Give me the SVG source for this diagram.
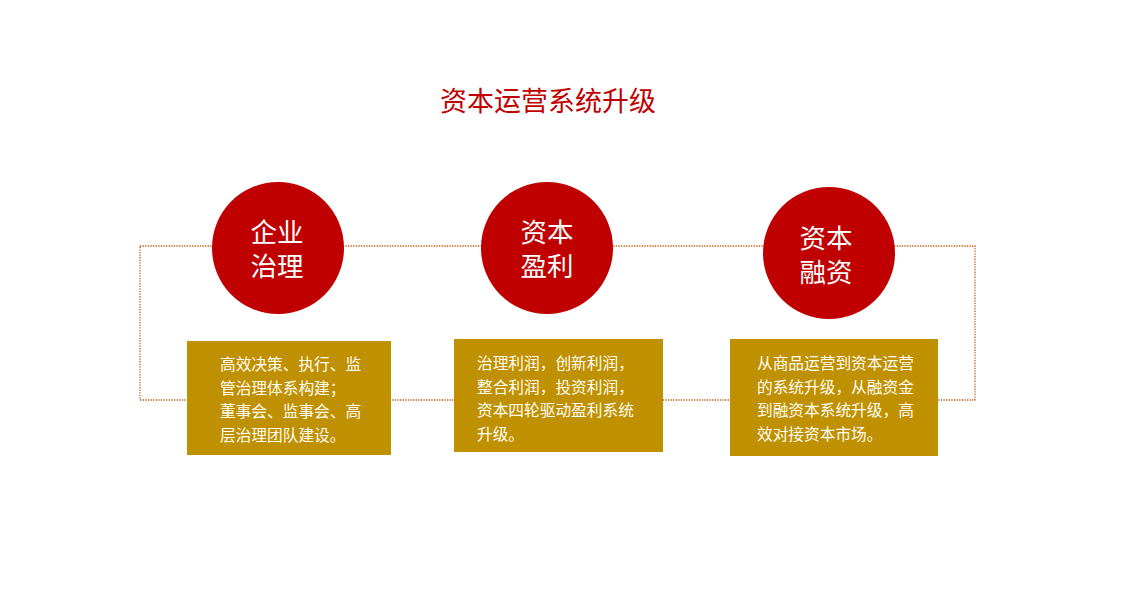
<svg xmlns="http://www.w3.org/2000/svg" width="1140" height="600" viewBox="0 0 1140 600">
<style>
.cjk{font-family:"Noto Sans CJK SC","Microsoft YaHei",sans-serif;}
.circ{fill:#C00000;}
.ct{fill:#FFFFFF;font-size:26.5px;text-anchor:middle;font-family:"Liberation Sans","Noto Sans CJK SC",sans-serif;}
.box{fill:#BF9000;}
.bt{fill:#FFFDF5;font-size:15.7px;}
.dot{fill:none;stroke:#C55A11;stroke-width:1.3;stroke-dasharray:1.3 1.3;}
</style>
<rect width="1140" height="600" fill="#FFFFFF"/>
<text class="cjk" x="548" y="111" font-size="27" fill="#C00000" text-anchor="middle">资本运营系统升级</text>
<g id="connectors">
<path class="dot" d="M140 246 H975 V400 H140 Z"/>
</g>
<g id="node1">
<circle class="circ" cx="278" cy="248" r="66"/>
<text class="ct" x="277" y="242">企业</text>
<text class="ct" x="277" y="276">治理</text>
</g>
<g id="node2">
<circle class="circ" cx="547" cy="248" r="66"/>
<text class="ct" x="547" y="242">资本</text>
<text class="ct" x="547" y="276">盈利</text>
</g>
<g id="node3">
<circle class="circ" cx="829" cy="253" r="66"/>
<text class="ct" x="826" y="248">资本</text>
<text class="ct" x="826" y="282">融资</text>
</g>
<g id="box1">
<rect class="box" x="187" y="341" width="204" height="114"/>
<text class="cjk bt" x="220" y="370">高效决策、执行、监</text>
<text class="cjk bt" x="220" y="393.5">管治理体系构建；</text>
<text class="cjk bt" x="220" y="417">董事会、监事会、高</text>
<text class="cjk bt" x="220" y="440.5">层治理团队建设。</text>
</g>
<g id="box2">
<rect class="box" x="454" y="339" width="209" height="113"/>
<text class="cjk bt" x="477" y="369">治理利润，创新利润，</text>
<text class="cjk bt" x="477" y="392.5">整合利润，投资利润，</text>
<text class="cjk bt" x="477" y="416">资本四轮驱动盈利系统</text>
<text class="cjk bt" x="477" y="439.5">升级。</text>
</g>
<g id="box3">
<rect class="box" x="730" y="339" width="208" height="117"/>
<text class="cjk bt" x="757" y="369">从商品运营到资本运营</text>
<text class="cjk bt" x="757" y="392.5">的系统升级，从融资金</text>
<text class="cjk bt" x="757" y="416">到融资本系统升级，高</text>
<text class="cjk bt" x="757" y="439.5">效对接资本市场。</text>
</g>
</svg>
